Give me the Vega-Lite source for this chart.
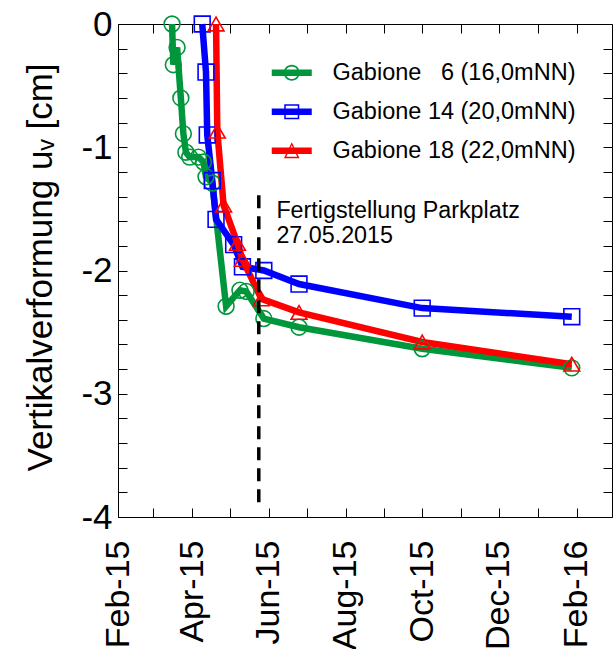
{
  "$schema": "https://vega.github.io/schema/vega-lite/v6.json",
  "width": 494,
  "height": 493,
  "autosize": {"type": "none"},
  "padding": {"left": 118, "top": 24, "right": 4, "bottom": 132},
  "background": "white",
  "config": {
    "view": {"stroke": null},
    "font": "Liberation Sans",
    "axis": {"grid": false, "domainColor": "black", "domainWidth": 1, "tickColor": "black", "tickWidth": 1, "labelColor": "black", "titleColor": "black", "labelFont": "Liberation Sans", "titleFont": "Liberation Sans", "titleFontWeight": "normal"}
  },
  "datasets": {
    "series": [
      {"s": "Gabione \u20076 (16,0mNN)", "d": "2015/03/16", "v": 0},
      {"s": "Gabione \u20076 (16,0mNN)", "d": "2015/03/17", "v": -0.33},
      {"s": "Gabione \u20076 (16,0mNN)", "d": "2015/03/20", "v": -0.19},
      {"s": "Gabione \u20076 (16,0mNN)", "d": "2015/03/23", "v": -0.6},
      {"s": "Gabione \u20076 (16,0mNN)", "d": "2015/03/25", "v": -0.89},
      {"s": "Gabione \u20076 (16,0mNN)", "d": "2015/03/27", "v": -1.04},
      {"s": "Gabione \u20076 (16,0mNN)", "d": "2015/03/30", "v": -1.08},
      {"s": "Gabione \u20076 (16,0mNN)", "d": "2015/04/06", "v": -1.08},
      {"s": "Gabione \u20076 (16,0mNN)", "d": "2015/04/10", "v": -1.12},
      {"s": "Gabione \u20076 (16,0mNN)", "d": "2015/04/12", "v": -1.24},
      {"s": "Gabione \u20076 (16,0mNN)", "d": "2015/04/17", "v": -1.29},
      {"s": "Gabione \u20076 (16,0mNN)", "d": "2015/04/28", "v": -2.29},
      {"s": "Gabione \u20076 (16,0mNN)", "d": "2015/05/09", "v": -2.16},
      {"s": "Gabione \u20076 (16,0mNN)", "d": "2015/05/14", "v": -2.17},
      {"s": "Gabione \u20076 (16,0mNN)", "d": "2015/05/28", "v": -2.39},
      {"s": "Gabione \u20076 (16,0mNN)", "d": "2015/06/25", "v": -2.46},
      {"s": "Gabione \u20076 (16,0mNN)", "d": "2015/10/01", "v": -2.635},
      {"s": "Gabione \u20076 (16,0mNN)", "d": "2016/01/28", "v": -2.79},
      {"s": "Gabione 14 (20,0mNN)", "d": "2015/04/09", "v": 0},
      {"s": "Gabione 14 (20,0mNN)", "d": "2015/04/12", "v": -0.39},
      {"s": "Gabione 14 (20,0mNN)", "d": "2015/04/13", "v": -0.9},
      {"s": "Gabione 14 (20,0mNN)", "d": "2015/04/17", "v": -1.27},
      {"s": "Gabione 14 (20,0mNN)", "d": "2015/04/20", "v": -1.585},
      {"s": "Gabione 14 (20,0mNN)", "d": "2015/05/04", "v": -1.79},
      {"s": "Gabione 14 (20,0mNN)", "d": "2015/05/11", "v": -1.97},
      {"s": "Gabione 14 (20,0mNN)", "d": "2015/05/28", "v": -2.0},
      {"s": "Gabione 14 (20,0mNN)", "d": "2015/06/25", "v": -2.11},
      {"s": "Gabione 14 (20,0mNN)", "d": "2015/10/01", "v": -2.305},
      {"s": "Gabione 14 (20,0mNN)", "d": "2016/01/28", "v": -2.375},
      {"s": "Gabione 18 (22,0mNN)", "d": "2015/04/20", "v": 0},
      {"s": "Gabione 18 (22,0mNN)", "d": "2015/04/21", "v": -0.87},
      {"s": "Gabione 18 (22,0mNN)", "d": "2015/04/26", "v": -1.47},
      {"s": "Gabione 18 (22,0mNN)", "d": "2015/05/07", "v": -1.78},
      {"s": "Gabione 18 (22,0mNN)", "d": "2015/05/11", "v": -1.91},
      {"s": "Gabione 18 (22,0mNN)", "d": "2015/05/26", "v": -2.23},
      {"s": "Gabione 18 (22,0mNN)", "d": "2015/06/25", "v": -2.34},
      {"s": "Gabione 18 (22,0mNN)", "d": "2015/10/01", "v": -2.58},
      {"s": "Gabione 18 (22,0mNN)", "d": "2016/01/28", "v": -2.76}
    ],
    "marker": [{"d": "2015/05/24", "v": -1.39, "v2": -3.92}],
    "note": [{"t": "Fertigstellung Parkplatz\n27.05.2015", "d": "2015/06/07", "v": -1.576}]
  },
  "layer": [
    {
      "data": {"name": "series"},
      "mark": {"type": "line", "strokeWidth": 6.5},
      "encoding": {
        "x": {
          "field": "d", "type": "temporal",
          "scale": {"domain": [{"year": 2015, "month": 2, "date": 1}, {"year": 2016, "month": 2, "date": 29}]},
          "axis": {
            "orient": "bottom", "title": null, "domain": true, "ticks": true, "tickSize": -9,
            "values": [{"year": 2015, "month": 2, "date": 1}, {"year": 2015, "month": 3, "date": 1}, {"year": 2015, "month": 4, "date": 1}, {"year": 2015, "month": 5, "date": 1}, {"year": 2015, "month": 6, "date": 1}, {"year": 2015, "month": 7, "date": 1}, {"year": 2015, "month": 8, "date": 1}, {"year": 2015, "month": 9, "date": 1}, {"year": 2015, "month": 10, "date": 1}, {"year": 2015, "month": 11, "date": 1}, {"year": 2015, "month": 12, "date": 1}, {"year": 2016, "month": 1, "date": 1}, {"year": 2016, "month": 2, "date": 1}],
            "labelExpr": "month(datum.value) % 2 === 1 ? timeFormat(datum.value, '%b-%y') : ''",
            "labelAngle": -90, "labelAlign": "right", "labelBaseline": "middle",
            "labelFontSize": 34, "labelPadding": 32, "labelOverlap": false, "labelFlush": false
          }
        },
        "y": {
          "field": "v", "type": "quantitative",
          "scale": {"domain": [-4, 0], "nice": false, "zero": false},
          "axis": {
            "orient": "left", "domain": true, "ticks": true, "tickSize": -9,
            "values": [-4, -3.8, -3.6, -3.4, -3.2, -3, -2.8, -2.6, -2.4, -2.2, -2, -1.8, -1.6, -1.4, -1.2, -1, -0.8, -0.6, -0.4, -0.2, 0],
            "labelExpr": "datum.value % 1 === 0 ? '' + datum.value : ''",
            "labelFontSize": 35, "labelPadding": 15, "labelOverlap": false, "labelFlush": false,
            "title": "Vertikalverformung u\u1d65 [cm]", "titleFontSize": 35,
            "titleAngle": -90, "titleX": -60, "titleY": 243, "titleAlign": "center", "titleBaseline": "bottom"
          }
        },
        "color": {
          "field": "s", "type": "nominal",
          "scale": {"domain": ["Gabione \u20076 (16,0mNN)", "Gabione 14 (20,0mNN)", "Gabione 18 (22,0mNN)"], "range": ["#00963c", "#0000ff", "#ff0000"]},
          "legend": null
        }
      }
    },
    {
      "data": {"name": "series"},
      "mark": {"type": "point", "filled": false, "size": 250, "strokeWidth": 1.6, "opacity": 1},
      "encoding": {
        "x": {
          "field": "d", "type": "temporal",
          "axis": {
            "orient": "top", "title": null, "labels": false, "domain": true, "ticks": true, "tickSize": -9,
            "values": [{"year": 2015, "month": 2, "date": 1}, {"year": 2015, "month": 3, "date": 1}, {"year": 2015, "month": 4, "date": 1}, {"year": 2015, "month": 5, "date": 1}, {"year": 2015, "month": 6, "date": 1}, {"year": 2015, "month": 7, "date": 1}, {"year": 2015, "month": 8, "date": 1}, {"year": 2015, "month": 9, "date": 1}, {"year": 2015, "month": 10, "date": 1}, {"year": 2015, "month": 11, "date": 1}, {"year": 2015, "month": 12, "date": 1}, {"year": 2016, "month": 1, "date": 1}, {"year": 2016, "month": 2, "date": 1}]
          }
        },
        "y": {
          "field": "v", "type": "quantitative",
          "axis": {
            "orient": "right", "title": null, "labels": false, "domain": true, "ticks": true, "tickSize": -9,
            "values": [-4, -3.8, -3.6, -3.4, -3.2, -3, -2.8, -2.6, -2.4, -2.2, -2, -1.8, -1.6, -1.4, -1.2, -1, -0.8, -0.6, -0.4, -0.2, 0]
          }
        },
        "color": {
          "field": "s", "type": "nominal", "legend": null,
          "scale": {"domain": ["Gabione \u20076 (16,0mNN)", "Gabione 14 (20,0mNN)", "Gabione 18 (22,0mNN)"], "range": ["#00963c", "#0000ff", "#ff0000"]}
        },
        "shape": {
          "field": "s", "type": "nominal", "legend": null,
          "scale": {"domain": ["Gabione \u20076 (16,0mNN)", "Gabione 14 (20,0mNN)", "Gabione 18 (22,0mNN)"], "range": ["circle", "square", "triangle-up"]}
        }
      }
    },
    {
      "data": {"name": "series"},
      "mark": {"type": "point", "filled": true, "size": 0, "opacity": 0},
      "encoding": {
        "x": {"field": "d", "type": "temporal", "axis": null},
        "y": {"field": "v", "type": "quantitative", "axis": null},
        "color": {
          "field": "s", "type": "nominal",
          "scale": {"domain": ["Gabione \u20076 (16,0mNN)", "Gabione 14 (20,0mNN)", "Gabione 18 (22,0mNN)"], "range": ["#00963c", "#0000ff", "#ff0000"]},
          "legend": {
            "orient": "none", "legendX": 162, "legendY": 37, "title": null, "padding": 0,
            "symbolSize": 400, "symbolOpacity": 1, "symbolStrokeWidth": 0, "labelFontSize": 23.5, "labelFont": "Liberation Sans", "labelColor": "black",
            "labelOffset": 29, "rowPadding": 14, "labelLimit": 0
          }
        },
        "shape": {
          "field": "s", "type": "nominal",
          "scale": {
            "domain": ["Gabione \u20076 (16,0mNN)", "Gabione 14 (20,0mNN)", "Gabione 18 (22,0mNN)"],
            "range": [
              "M-2,-0.32L2,-0.32L2,0.32L-2,0.32Z M0.8,0A0.8,0.8,0,1,1,-0.8,0A0.8,0.8,0,1,1,0.8,0Z M0.63,0A0.63,0.63,0,1,0,-0.63,0A0.63,0.63,0,1,0,0.63,0Z",
              "M-2,-0.32L2,-0.32L2,0.32L-2,0.32Z M-0.75,-0.75L0.75,-0.75L0.75,0.75L-0.75,0.75Z M-0.6,-0.6L-0.6,0.6L0.6,0.6L0.6,-0.6Z",
              "M-2,-0.32L2,-0.32L2,0.32L-2,0.32Z M0,-0.85L0.78,0.75L-0.78,0.75Z M0,-0.55L-0.55,0.6L0.55,0.6Z"
            ]
          },
          "legend": {
            "orient": "none", "legendX": 162, "legendY": 37, "title": null, "padding": 0,
            "symbolSize": 400, "symbolOpacity": 1, "symbolStrokeWidth": 0, "labelFontSize": 23.5, "labelFont": "Liberation Sans", "labelColor": "black",
            "labelOffset": 29, "rowPadding": 14, "labelLimit": 0
          }
        }
      }
    },
    {
      "data": {"name": "marker"},
      "mark": {"type": "rule", "color": "black", "strokeWidth": 3.5, "strokeDash": [13, 8]},
      "encoding": {
        "x": {"field": "d", "type": "temporal", "axis": null},
        "y": {"field": "v", "type": "quantitative", "axis": null},
        "y2": {"field": "v2"}
      }
    },
    {
      "data": {"name": "note"},
      "mark": {"type": "text", "align": "left", "baseline": "alphabetic", "fontSize": 23.3, "lineBreak": "\n", "lineHeight": 25, "color": "black", "font": "Liberation Sans"},
      "encoding": {
        "x": {"field": "d", "type": "temporal", "axis": null},
        "y": {"field": "v", "type": "quantitative", "axis": null},
        "text": {"field": "t"}
      }
    }
  ],
  "resolve": {"axis": {"x": "independent", "y": "independent"}, "scale": {"shape": "independent", "color": "independent"}}
}
